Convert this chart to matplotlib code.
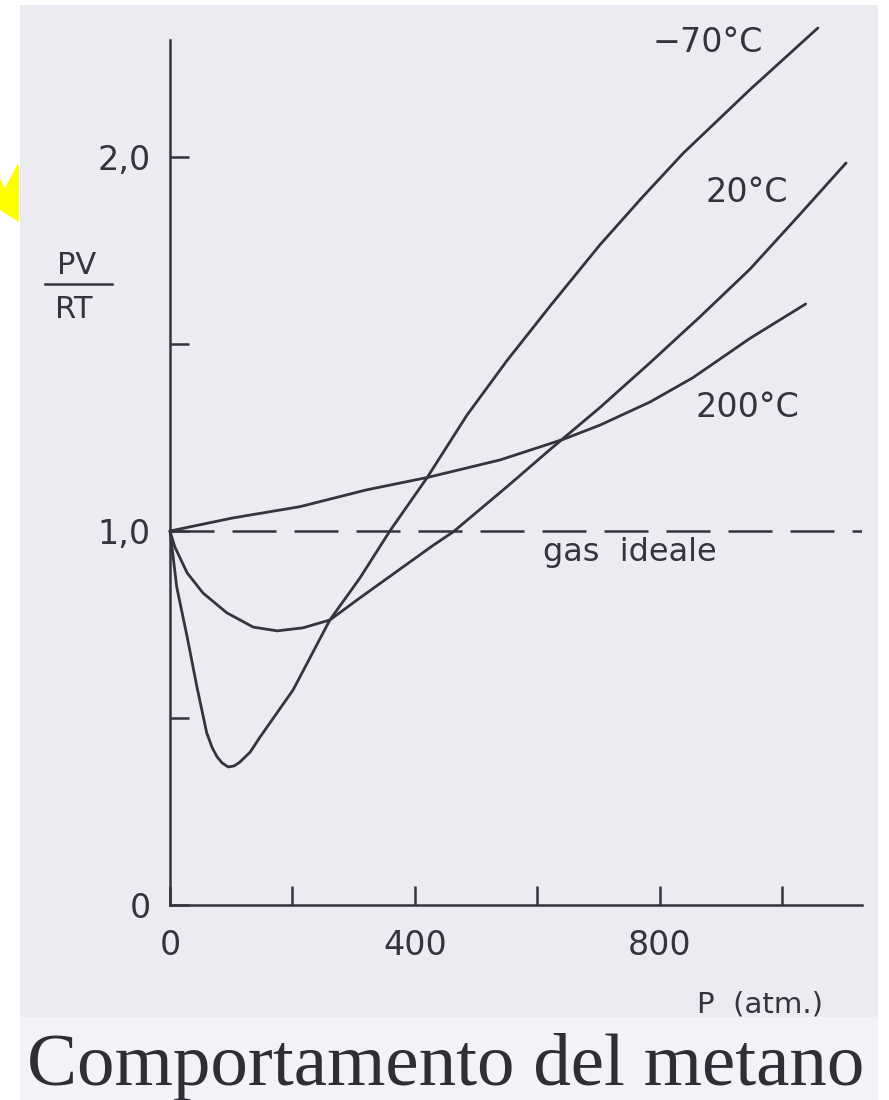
import matplotlib
matplotlib.use("Agg")
import matplotlib.pyplot as plt
from matplotlib.patches import Rectangle, Polygon
from matplotlib.lines import Line2D

# PV/RT of methane vs pressure
p_m70 = [0, 3, 11, 28, 44, 60, 69, 77, 85, 95, 105, 114, 131, 147, 201, 261, 310, 359, 420, 485,
         550, 620, 702, 770, 838, 947, 1058]
z_m70 = [1.0, 0.96, 0.85, 0.717, 0.583, 0.46, 0.42, 0.396, 0.38, 0.369, 0.372, 0.382, 0.409, 0.449,
         0.575, 0.762, 0.874, 1.0, 1.143, 1.31, 1.455, 1.60, 1.765, 1.89, 2.01, 2.18, 2.345]

p_20 = [0, 8, 28, 54, 93, 136, 175, 217, 261, 310, 430, 462, 550, 620, 702, 784, 865, 947, 1025, 1104]
z_20 = [1.0, 0.957, 0.888, 0.834, 0.781, 0.743, 0.733, 0.741, 0.762, 0.821, 0.962, 0.997, 1.118,
        1.217, 1.33, 1.45, 1.572, 1.70, 1.84, 1.984]

p_200 = [0, 103, 212, 321, 420, 539, 642, 702, 784, 854, 947, 1038]
z_200 = [1.0, 1.035, 1.065, 1.11, 1.143, 1.19, 1.245, 1.283, 1.345, 1.41, 1.515, 1.607]

x_ticks = [0, 200, 400, 600, 800, 1000]
x_labels = ["0", "", "400", "", "800", ""]
y_ticks = [0, 0.5, 1.0, 1.5, 2.0]
y_labels = ["0", "", "1,0", "", "2,0"]

ink = "#34343c"
W, H = 889, 1100

def fx(px):
    return px / W

def fy(py):
    return 1 - py / H

fig = plt.figure(figsize=(W / 100, H / 100), dpi=100)
fig.patch.set_facecolor("white")

# scanned paper background
fig.add_artist(Rectangle((fx(20), fy(1017)), fx(878) - fx(20), fy(5) - fy(1017),
                         transform=fig.transFigure, facecolor="#ebebf2", edgecolor="none", zorder=-10))
fig.add_artist(Rectangle((fx(20), 0), fx(878) - fx(20), fy(1017),
                         transform=fig.transFigure, facecolor="#f3f3f7", edgecolor="none", zorder=-10))
# yellow marker at the left edge
fig.add_artist(Polygon([(fx(0), fy(178)), (fx(5), fy(188)), (fx(17), fy(165)), (fx(19), fy(165)),
                        (fx(19), fy(222)), (fx(0), fy(210))],
                       transform=fig.transFigure, facecolor="#ffff00", edgecolor="none", zorder=-5))

ax = fig.add_axes([fx(170), fy(905), fx(862) - fx(170), fy(40) - fy(905)])
ax.patch.set_alpha(0)
ax.set_xlim(0, 692 * 1.633)
ax.set_ylim(0, 865 / 374)

for s in ["top", "right"]:
    ax.spines[s].set_visible(False)
for s in ["left", "bottom"]:
    ax.spines[s].set_linewidth(1.8)
    ax.spines[s].set_color(ink)

ax.set_xticks(x_ticks)
ax.set_xticklabels(x_labels)
ax.set_yticks(y_ticks)
ax.set_yticklabels(y_labels)
ax.tick_params(direction="in", length=14, width=1.8, colors=ink, labelsize=24)
ax.tick_params(axis="x", pad=17)
ax.tick_params(axis="y", pad=14)

lw = 2.0
for p, z in [(p_m70, z_m70), (p_20, z_20), (p_200, z_200)]:
    ax.plot(p, z, color=ink, lw=lw, clip_on=False, solid_capstyle="round", solid_joinstyle="round")
ax.axhline(1.0, color=ink, lw=1.8, ls=(0, (17.6, 7.2)))

# labels
fig.text(fx(708), fy(43), "\u221270\u00b0C", ha="center", va="center", fontsize=24, color=ink)
fig.text(fx(747), fy(193), "20\u00b0C", ha="center", va="center", fontsize=24, color=ink)
fig.text(fx(747), fy(408), "200\u00b0C", ha="center", va="center", fontsize=24, color=ink)
fig.text(fx(630), fy(553), "gas  ideale", ha="center", va="center", fontsize=23, color=ink)
fig.text(fx(760), fy(1004), "P  (atm.)", ha="center", va="center", fontsize=21, color=ink)

fig.text(fx(77), fy(265), "PV", ha="center", va="center", fontsize=22, color=ink)
fig.text(fx(74), fy(310), "RT", ha="center", va="center", fontsize=22, color=ink)
fig.add_artist(Line2D([fx(45), fx(112)], [fy(284), fy(284)], transform=fig.transFigure, color=ink, lw=1.8))

fig.text(fx(446), fy(1085), "Comportamento del metano", ha="center", va="baseline",
         fontsize=54, family="Liberation Serif", color="#2e2e36")

fig.savefig("out.png", dpi=100, facecolor=fig.get_facecolor())
